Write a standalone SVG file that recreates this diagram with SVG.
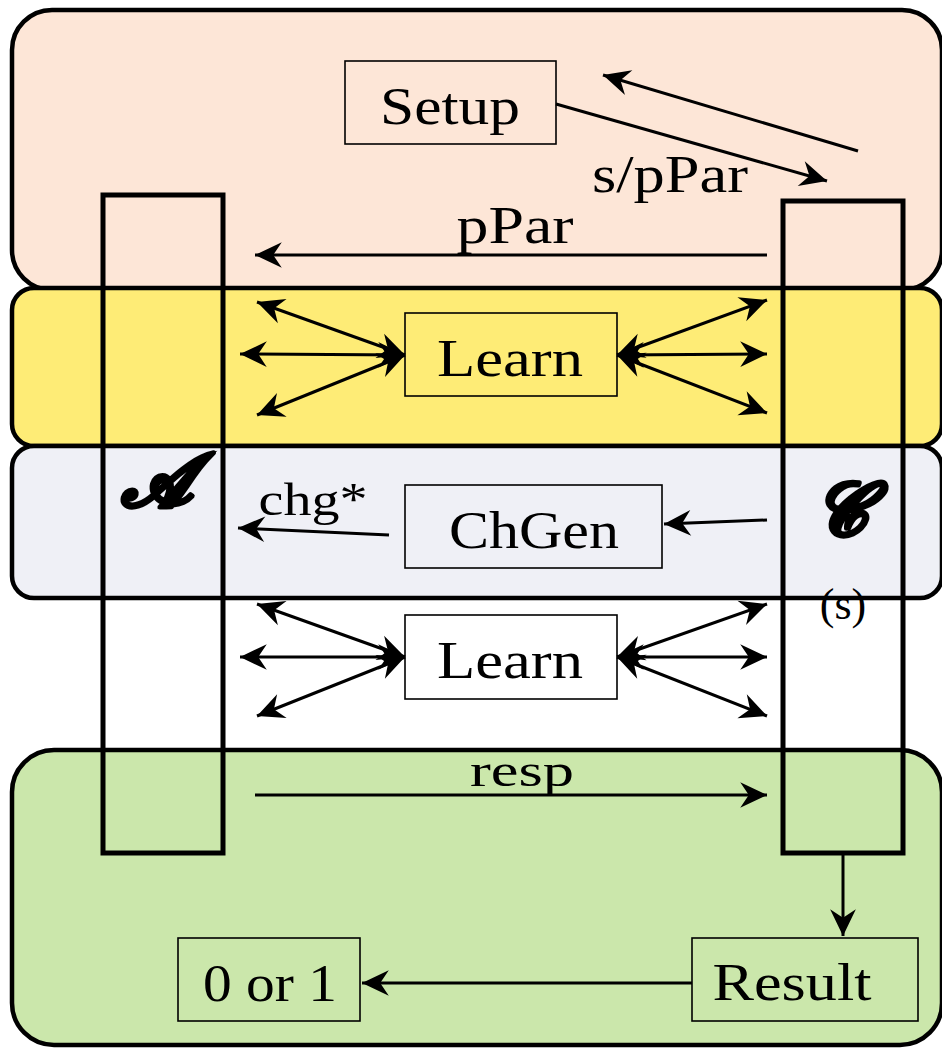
<svg xmlns="http://www.w3.org/2000/svg" width="942" height="1049" viewBox="0 0 942 1049">
<style>
.band{stroke:#000;stroke-width:4.5}
.pillar{fill:none;stroke:#000;stroke-width:5}
.box{stroke:#000;stroke-width:1.6}
.lbl{font-family:"Liberation Serif","DejaVu Serif",serif;font-size:52px;fill:#000}
.cn{stroke:#000;stroke-width:3;fill:none}
.script{font-family:"DejaVu Sans","Noto Sans",sans-serif;font-weight:bold;font-style:italic;fill:#000;stroke:#000;stroke-width:2.5;stroke-linejoin:round}
</style>
<defs>
<marker id="ah" markerUnits="userSpaceOnUse" markerWidth="30" markerHeight="30" viewBox="-26 -13 28 26" refX="0" refY="0" orient="auto-start-reverse">
<path d="M0,0 L-25,-12 L-17,0 L-25,12 Z" fill="#000"/>
</marker>
</defs>
<g id="bands">
<rect id="band-setup" class="band" x="12" y="10" width="930" height="280" rx="40" fill="#FDE6D7"/>
<rect id="band-learn1" class="band" x="12" y="288" width="930" height="158" rx="22" fill="#FEEC76"/>
<rect id="band-chgen" class="band" x="12" y="446" width="930" height="152" rx="22" fill="#EFF0F6"/>
<rect id="band-result" class="band" x="12" y="750" width="930" height="295" rx="42" fill="#CBE7AB"/>
</g>
<g id="adversary">
<rect class="pillar" x="103" y="195" width="120" height="658"/>
<text class="script" x="156" y="506" font-size="74" text-anchor="middle">𝓐</text>
</g>
<g id="challenger">
<rect class="pillar" x="783" y="201" width="120" height="652"/>
<text class="script" x="840" y="535" font-size="74" text-anchor="middle">𝓒</text>
<text class="lbl" x="843" y="619" text-anchor="middle" style="font-size:44px">(s)</text>
</g>
<g id="setup"><rect class="box" x="345" y="61" width="211" height="83" fill="none"/><text class="lbl" x="450" y="124" text-anchor="middle" textLength="140" lengthAdjust="spacingAndGlyphs">Setup</text></g>
<g id="learn1"><rect class="box" x="405" y="313" width="212" height="83" fill="none"/><text class="lbl" x="510" y="376" text-anchor="middle" textLength="146" lengthAdjust="spacingAndGlyphs">Learn</text></g>
<g id="chgen"><rect class="box" x="405" y="485" width="257" height="83" fill="none"/><text class="lbl" x="534" y="548" text-anchor="middle" textLength="170" lengthAdjust="spacingAndGlyphs">ChGen</text></g>
<g id="learn2"><rect class="box" x="405" y="615" width="212" height="84" fill="none"/><text class="lbl" x="510" y="678" text-anchor="middle" textLength="146" lengthAdjust="spacingAndGlyphs">Learn</text></g>
<g id="result"><rect class="box" x="692" y="938" width="226" height="83" fill="none"/><text class="lbl" x="792" y="1000" text-anchor="middle" textLength="159" lengthAdjust="spacingAndGlyphs">Result</text></g>
<g id="zero-or-one"><rect class="box" x="178" y="938" width="182" height="83" fill="none"/><text class="lbl" x="270" y="1001" text-anchor="middle" textLength="134" lengthAdjust="spacingAndGlyphs">0 or 1</text></g>
<g id="connectors">
<line class="cn" x1="556" y1="104" x2="827" y2="181" marker-end="url(#ah)"/>
<line class="cn" x1="858" y1="151" x2="603" y2="75" marker-end="url(#ah)"/>
<line class="cn" x1="767" y1="255" x2="255" y2="255" marker-end="url(#ah)"/>
<line class="cn" x1="405" y1="355" x2="257" y2="302" marker-start="url(#ah)" marker-end="url(#ah)"/>
<line class="cn" x1="405" y1="355" x2="240" y2="354" marker-start="url(#ah)" marker-end="url(#ah)"/>
<line class="cn" x1="405" y1="355" x2="257" y2="415" marker-start="url(#ah)" marker-end="url(#ah)"/>
<line class="cn" x1="617" y1="355" x2="767" y2="300" marker-start="url(#ah)" marker-end="url(#ah)"/>
<line class="cn" x1="617" y1="355" x2="767" y2="354" marker-start="url(#ah)" marker-end="url(#ah)"/>
<line class="cn" x1="617" y1="355" x2="767" y2="413" marker-start="url(#ah)" marker-end="url(#ah)"/>
<line class="cn" x1="767" y1="520" x2="664" y2="524" marker-end="url(#ah)"/>
<line class="cn" x1="389" y1="535" x2="238" y2="528" marker-end="url(#ah)"/>
<line class="cn" x1="405" y1="657" x2="257" y2="604" marker-start="url(#ah)" marker-end="url(#ah)"/>
<line class="cn" x1="405" y1="657" x2="240" y2="657" marker-start="url(#ah)" marker-end="url(#ah)"/>
<line class="cn" x1="405" y1="657" x2="257" y2="716" marker-start="url(#ah)" marker-end="url(#ah)"/>
<line class="cn" x1="617" y1="657" x2="767" y2="604" marker-start="url(#ah)" marker-end="url(#ah)"/>
<line class="cn" x1="617" y1="657" x2="767" y2="657" marker-start="url(#ah)" marker-end="url(#ah)"/>
<line class="cn" x1="617" y1="657" x2="767" y2="716" marker-start="url(#ah)" marker-end="url(#ah)"/>
<line class="cn" x1="255" y1="795" x2="767" y2="795" marker-end="url(#ah)"/>
<line class="cn" x1="843" y1="853" x2="843" y2="936" marker-end="url(#ah)"/>
<line class="cn" x1="692" y1="983" x2="362" y2="983" marker-end="url(#ah)"/>
<text class="lbl" x="670" y="192" text-anchor="middle" textLength="156" lengthAdjust="spacingAndGlyphs">s/pPar</text>
<text class="lbl" x="515" y="243" text-anchor="middle" textLength="117" lengthAdjust="spacingAndGlyphs">pPar</text>
<text class="lbl" x="313" y="515" text-anchor="middle" textLength="109" lengthAdjust="spacingAndGlyphs" style="font-size:46px">chg*</text>
<text class="lbl" x="522" y="786" text-anchor="middle" textLength="104" lengthAdjust="spacingAndGlyphs" style="font-size:46px">resp</text>
</g>
</svg>
